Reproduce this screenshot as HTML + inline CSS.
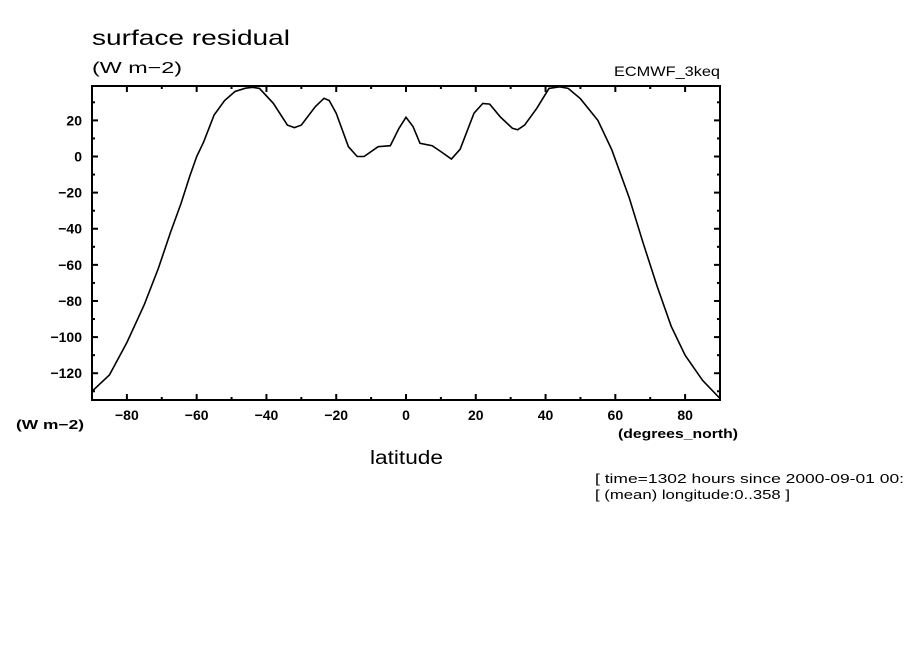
<!DOCTYPE html>
<html><head><meta charset="utf-8"><style>
body{margin:0;background:#fff;width:904px;height:654px;overflow:hidden}
svg text{font-family:"Liberation Sans",sans-serif;fill:#000}
</style></head><body>
<svg id="chart" width="904" height="654" viewBox="0 0 904 654" xmlns="http://www.w3.org/2000/svg">
<text x="92" y="45" font-size="21" textLength="198" lengthAdjust="spacingAndGlyphs">surface residual</text>
<text x="92" y="73" font-size="16" textLength="90" lengthAdjust="spacingAndGlyphs">(W m−2)</text>
<text x="614" y="76" font-size="14" textLength="106" lengthAdjust="spacingAndGlyphs">ECMWF_3keq</text>
<g id="axes"></g>
<path id="series" fill="none" stroke="#000" stroke-width="1.6"/>
<text x="16" y="429" font-size="13" font-weight="bold" textLength="68" lengthAdjust="spacingAndGlyphs">(W m−2)</text>
<text x="618" y="438" font-size="13" font-weight="bold" textLength="120" lengthAdjust="spacingAndGlyphs">(degrees_north)</text>
<text x="370" y="464" font-size="19" textLength="73" lengthAdjust="spacingAndGlyphs">latitude</text>
<text x="595" y="483" font-size="12.5" textLength="309" lengthAdjust="spacingAndGlyphs">[ time=1302 hours since 2000-09-01 00:</text>
<text x="595" y="499" font-size="12.5" textLength="195" lengthAdjust="spacingAndGlyphs">[ (mean) longitude:0..358 ]</text>
</svg>
<script>
const lats=[-90,-85,-80,-75,-71,-67.5,-64.5,-62,-60,-58,-55,-52,-49,-46,-44,-42,-38,-34,-32,-30,-26,-23.5,-22,-20,-16.5,-14,-12,-8,-4.5,-2,0,2,4,7.5,10,13,15.5,19.5,22,24,27,30.5,32,34,37.5,41,44,46.5,50,55,59,64,68,72,76,80,85,90];
const vals=[-130,-121,-103,-82,-62,-42,-26,-11,0,8,23,31,36,37.8,38.3,37.7,29.4,17.4,16,17.4,27.6,32.2,31,24,5.4,0,0,5.4,6,15.6,21.7,16.6,7.3,6,2.7,-1.4,4,24,29.4,29,22,15.6,14.8,17.4,26.7,37.7,38.6,37.7,32,20,3.7,-23,-48,-72,-94,-110,-124,-134];
const xTicks=[-80,-60,-40,-20,0,20,40,60,80];
const yTicks=[20,0,-20,-40,-60,-80,-100,-120];
const L=92,R=720,T=86,B=400;
const xs=v=>406+(v)*(R-L)/180;
const ys=v=>156.5-v*1.806;
const NS="http://www.w3.org/2000/svg";
const g=document.getElementById('axes');
function mk(tag,a){const e=document.createElementNS(NS,tag);for(const k in a)e.setAttribute(k,a[k]);g.appendChild(e);return e;}
const fr=mk('rect',{x:L,y:T,width:R-L,height:B-T,fill:'none',stroke:'#000','stroke-width':2});


for(let v=-90;v<=90;v+=10){
 const major=v%20===0;const len=major?6:3;const x=xs(v);
 const t1=mk('line',{x1:x,x2:x,y1:B,y2:B-len,stroke:'#000','stroke-width':2});
 
 
 const t2=mk('line',{x1:x,x2:x,y1:T,y2:T+len,stroke:'#000','stroke-width':2});
 
 
}
for(let v=-130;v<=30;v+=10){
 const major=v%20===0;const len=major?6:3;const y=ys(v);
 const t1=mk('line',{x1:L,x2:L+len,y1:y,y2:y,stroke:'#000','stroke-width':2});
 
 
 const t2=mk('line',{x1:R,x2:R-len,y1:y,y2:y,stroke:'#000','stroke-width':2});
 
 
}
xTicks.forEach(v=>{const t=mk('text',{x:xs(v),y:420,'font-size':14,'font-weight':'bold','text-anchor':'middle'});t.textContent=(v<0?'−':'')+Math.abs(v);
 
 });
yTicks.forEach(v=>{const t=mk('text',{x:82,y:ys(v)+5,'font-size':14,'font-weight':'bold','text-anchor':'end'});t.textContent=(v<0?'−':'')+Math.abs(v);
 
 });
document.getElementById('series').setAttribute('d',lats.map((la,i)=>(i?'L':'M')+xs(la).toFixed(1)+','+ys(vals[i]).toFixed(1)).join(''));
</script>
</body></html>
